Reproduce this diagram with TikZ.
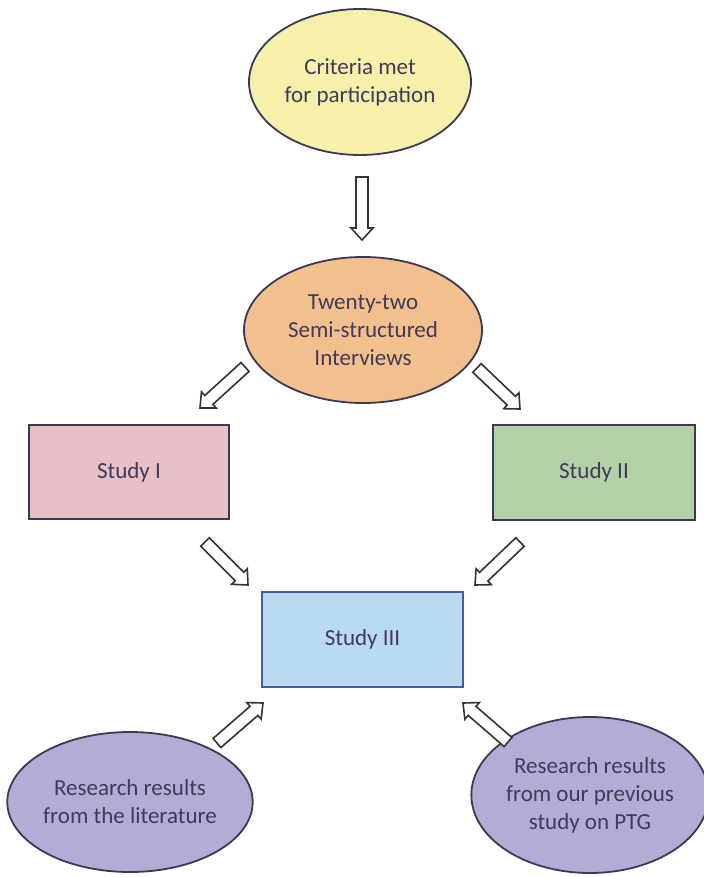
\documentclass[tikz,border=0pt]{standalone}
\usepackage{fontspec}
\setmainfont{Carlito}
\usetikzlibrary{shapes.geometric,calc}

\definecolor{critfill}{RGB}{247,240,170}
\definecolor{intfill}{RGB}{241,192,142}
\definecolor{sonefill}{RGB}{232,192,200}
\definecolor{stwofill}{RGB}{180,208,167}
\definecolor{sthreefill}{RGB}{186,218,242}
\definecolor{resfill}{RGB}{180,172,214}
\definecolor{edge}{RGB}{62,56,84}
\definecolor{blueedge}{RGB}{72,92,150}
\definecolor{txt}{RGB}{66,58,88}

% hollow block arrow from one named coordinate to another
\newcommand{\blockarrowfromto}[2]{%
  \draw[hollowarrow]
    ($(#1)!3pt!90:(#2)$) --
    ($($(#2)!6pt!(#1)$)!3pt!90:(#2)$) --
    ($($(#2)!6pt!(#1)$)!5.5pt!90:(#2)$) --
    (#2) --
    ($($(#2)!6pt!(#1)$)!5.5pt!-90:(#2)$) --
    ($($(#2)!6pt!(#1)$)!3pt!-90:(#2)$) --
    ($(#1)!3pt!-90:(#2)$) -- cycle;}

\tikzset{
  txtfont/.style={font=\fontsize{11.5}{14}\selectfont, text=txt, align=center},
  oval/.style={ellipse, draw=edge, line width=0.9pt, inner sep=0pt, txtfont},
  studybox/.style={rectangle, draw=edge, line width=1pt, inner sep=0pt,
    minimum width=100pt, minimum height=47pt, txtfont},
  hollowarrow/.style={draw=black!80, fill=white, line width=0.8pt, line join=miter}
}

\begin{document}
\begin{tikzpicture}[x=0.5pt, y=-0.5pt]
  \useasboundingbox (0,0) rectangle (703,877);

  % ovals and boxes
  \node[oval, fill=critfill, minimum width=111pt, minimum height=73pt]
    (crit) at (360,82) {Criteria met\\for participation};
  \node[oval, fill=intfill, minimum width=119pt, minimum height=73pt]
    (interviews) at (363,330) {Twenty-two\\Semi-structured\\Interviews};
  \node[studybox, fill=sonefill] (studyone) at (129,472) {Study I};
  \node[studybox, fill=stwofill, minimum width=101pt, minimum height=47.5pt]
    (studytwo) at (594,472.5) {Study II};
  \node[studybox, fill=sthreefill, draw=blueedge, minimum width=100.5pt,
    minimum height=47.5pt] (studythree) at (362.5,639.5) {Study III};
  \node[oval, fill=resfill, minimum width=121pt, minimum height=70pt]
    (literature) at (130,802) {Research results\\from the literature};
  \node[oval, fill=resfill, minimum width=113pt, minimum height=78pt]
    (previous) at (590,795) {Research results\\from our previous\\study on PTG};

  % arrow end points
  \coordinate (downtail) at (362,177);
  \coordinate (downtip) at (362,240);
  \coordinate (lefttail) at (245,367);
  \coordinate (lefttip) at (200,408);
  \coordinate (righttail) at (477,368);
  \coordinate (righttip) at (520,409);
  \coordinate (onetail) at (205,542);
  \coordinate (onetip) at (248,585);
  \coordinate (twotail) at (520,542);
  \coordinate (twotip) at (475,585);
  \coordinate (littail) at (217,743);
  \coordinate (littip) at (263,703);
  \coordinate (prevtail) at (508,742);
  \coordinate (prevtip) at (463,703);

  \blockarrowfromto{downtail}{downtip}
  \blockarrowfromto{lefttail}{lefttip}
  \blockarrowfromto{righttail}{righttip}
  \blockarrowfromto{onetail}{onetip}
  \blockarrowfromto{twotail}{twotip}
  \blockarrowfromto{littail}{littip}
  \blockarrowfromto{prevtail}{prevtip}
\end{tikzpicture}
\end{document}
